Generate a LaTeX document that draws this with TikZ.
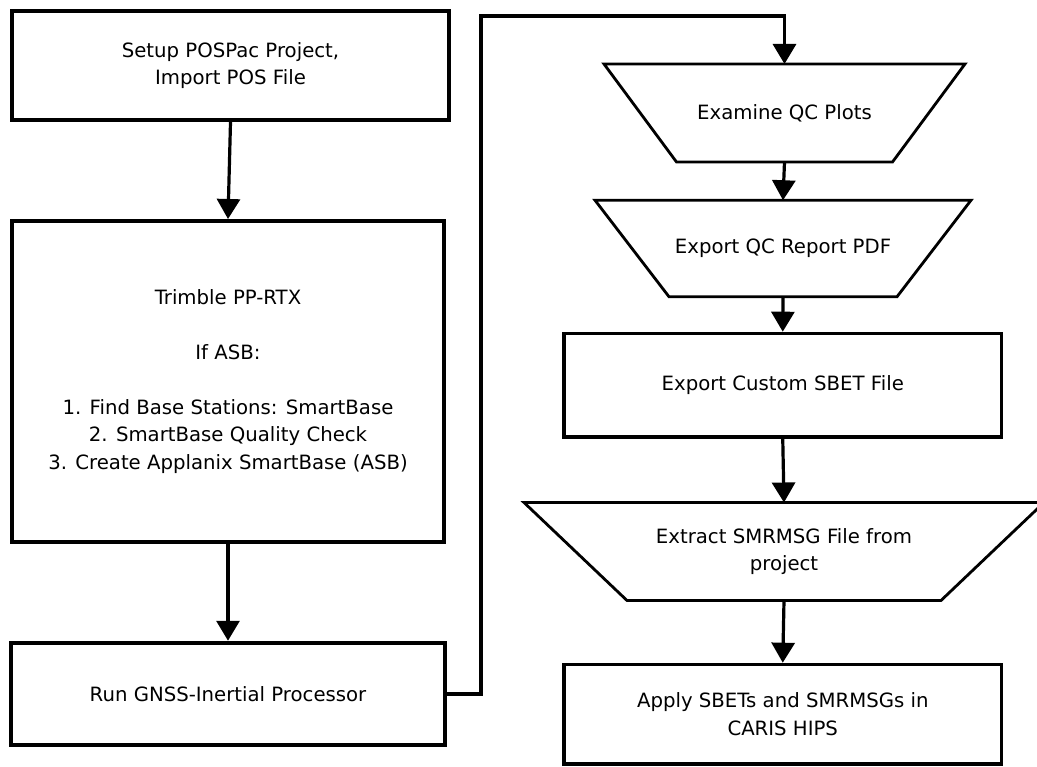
\documentclass[tikz,border=0pt]{standalone}
\usepackage{fontspec}
\setmainfont{DejaVu Sans}
\usetikzlibrary{arrows.meta}
\begin{document}
\begin{tikzpicture}[x=1pt,y=-1pt,
  every node/.style={font=\fontsize{19.7}{27.5}\selectfont, align=center, inner sep=0pt},
  procbox/.style={draw, rectangle, line width=4pt},
  trapnode/.style={rectangle, draw=none, outer sep=0pt},
  trapline/.style={draw, line width=2.8pt, line join=miter},
  conn/.style={line width=3.2pt, line join=miter, -{Triangle[width=23pt,length=20pt]}}]
\useasboundingbox (0,0) rectangle (1037,767);
\fill[white] (0,0) rectangle (1037,767);

% left column
\node[procbox, minimum width=437pt, minimum height=109pt] (b1) at (230.5,65.5)
  {Setup POSPac Project,\\Import POS File};
\node[procbox, minimum width=432pt, minimum height=321pt] (b2) at (228,381.5)
  {Trimble PP-RTX\\[27.5pt]If ASB:\\[27.5pt]1. Find Base Stations: SmartBase\\2. SmartBase Quality Check\\3. Create Applanix SmartBase (ASB)};
\node[procbox, minimum width=434pt, minimum height=102.5pt] (b3) at (228,694)
  {Run GNSS-Inertial Processor};

% right column
\node[trapnode, minimum width=361pt, minimum height=98pt] (t1) at (784.5,113) {Examine QC Plots};
\draw[trapline] (t1.north west) -- (t1.north east) -- ([xshift=-72.5pt]t1.south east) -- ([xshift=72.5pt]t1.south west) -- cycle;

\node[trapnode, minimum width=376pt, minimum height=96.5pt] (t2) at (783,248.5) {Export QC Report PDF};
\draw[trapline] (t2.north west) -- (t2.north east) -- ([xshift=-74pt]t2.south east) -- ([xshift=74pt]t2.south west) -- cycle;

\node[procbox, line width=3.6pt, minimum width=437.5pt, minimum height=103.5pt] (b4) at (782.75,385.25)
  {Export Custom SBET File};

\node[trapnode, minimum width=520pt, minimum height=98pt] (t3) at (784,551.5) {Extract SMRMSG File from\\project};
\draw[trapline] (t3.north west) -- (t3.north east) -- ([xshift=-103pt]t3.south east) -- ([xshift=103pt]t3.south west) -- cycle;

\node[procbox, line width=3.6pt, minimum width=437.5pt, minimum height=99.5pt] (b5) at (782.75,714.25)
  {Apply SBETs and SMRMSGs in\\CARIS HIPS};

% connectors
\coordinate (c1) at (481,16);
\draw[conn] (b1.south) -- (b2.north);
\draw[conn] (b2.south) -- (b3.north);
\draw[conn] (b3.east) -| (c1) -| (t1.north);
\draw[conn] (t1.south) -- (t2.north);
\draw[conn] (t2.south) -- (b4.north);
\draw[conn] (b4.south) -- (t3.north);
\draw[conn] (t3.south) -- (b5.north);
\end{tikzpicture}
\end{document}
